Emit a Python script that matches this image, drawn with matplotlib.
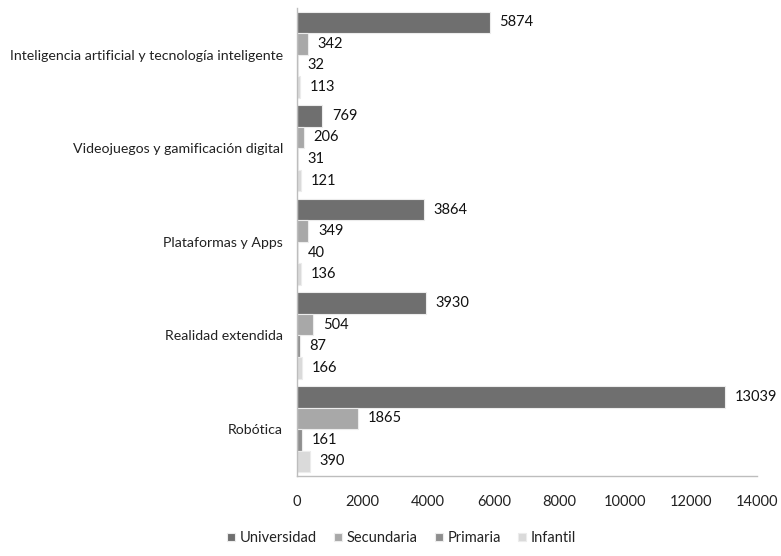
import matplotlib
matplotlib.use("Agg")
import matplotlib.pyplot as plt
import numpy as np

plt.rcParams["font.family"] = ["Lato", "DejaVu Sans"]

categories = ["Inteligencia artificial y tecnología inteligente",
              "Videojuegos y gamificación digital",
              "Plataformas y Apps",
              "Realidad extendida",
              "Robótica"]
series = ["Universidad", "Secundaria", "Primaria", "Infantil"]
universidad = [5874, 769, 3864, 3930, 13039]
secundaria = [342, 206, 349, 504, 1865]
primaria = [32, 31, 40, 87, 161]
infantil = [113, 121, 136, 166, 390]
xticks = [0, 2000, 4000, 6000, 8000, 10000, 12000, 14000]

values = [universidad, secundaria, primaria, infantil]
colors = ["#6f6f6f", "#a8a8a8", "#8e8e8e", "#dadada"]

fig = plt.figure(figsize=(7.81, 5.56), dpi=100)
ax = fig.add_axes([0.380, 0.144, 0.589, 0.842])

n = len(categories)
bh = 0.23
centers = np.arange(n)[::-1].astype(float)
for i, (name, vals, c) in enumerate(zip(series, values, colors)):
    y = centers + (1.5 - i) * bh
    ax.barh(y, vals, height=bh, color=c, edgecolor="#ececec", linewidth=0.8, label=name)
    for yy, v in zip(y, vals):
        ax.annotate(str(v), (v, yy), xytext=(7, 0), textcoords="offset points",
                    va="center", ha="left", fontsize=10.5, color="#111111")

ax.set_xlim(0, 14000)
ax.set_ylim(-0.5, n - 0.5)
ax.set_xticks(xticks)
ax.set_xticklabels([str(t) for t in xticks], fontsize=10.5)
ax.set_yticks(centers)
ax.set_yticklabels(categories, fontsize=10.2)
ax.tick_params(axis="both", length=0, colors="#222222")
ax.tick_params(axis="x", pad=14)
ax.tick_params(axis="y", pad=10)
for s in ["top", "right"]:
    ax.spines[s].set_visible(False)
for s in ["left", "bottom"]:
    ax.spines[s].set_color("#bdbdbd")
    ax.spines[s].set_linewidth(1)

fig.legend(loc="lower center", bbox_to_anchor=(0.514, -0.004), ncol=4, frameon=False,
           fontsize=10.5, handlelength=0.55, handleheight=0.55, handletextpad=0.3,
           columnspacing=1.2, labelcolor="#222222")

fig.savefig("out.png", dpi=100)
